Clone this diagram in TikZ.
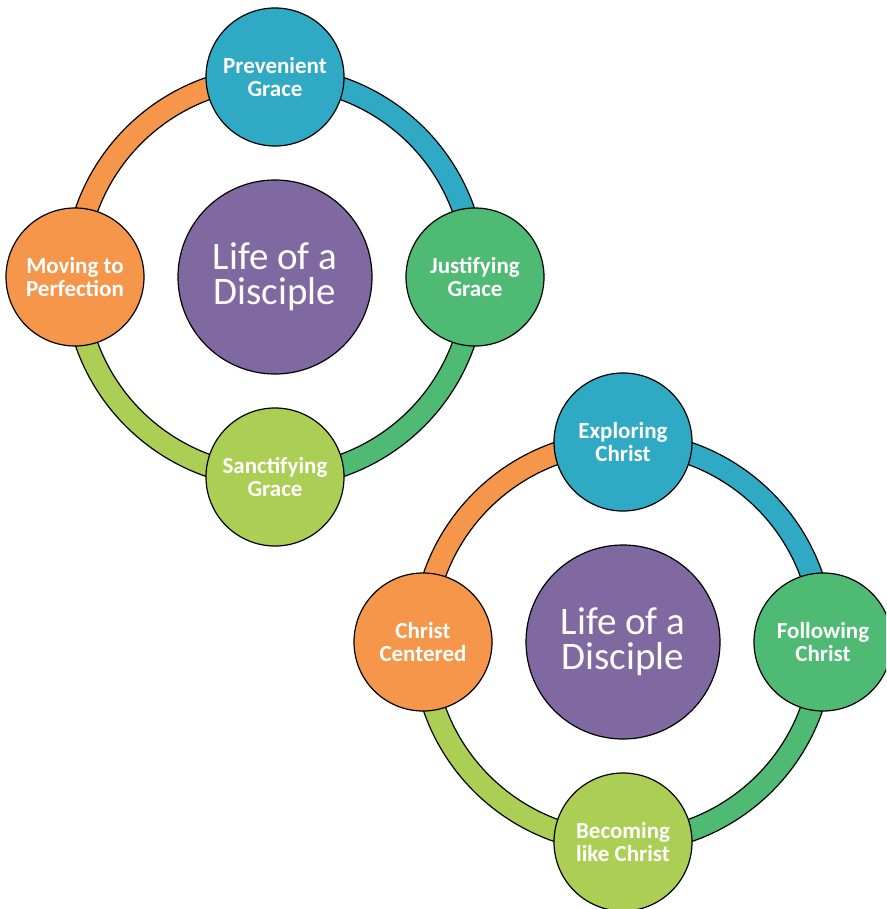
\documentclass[tikz,border=0pt]{standalone}
\usepackage{fontspec}
\setmainfont{Carlito}
\usetikzlibrary{calc}

\definecolor{graceblue}{HTML}{2FA9C4}
\definecolor{gracegreen}{HTML}{4FBA74}
\definecolor{gracelime}{HTML}{ABCF55}
\definecolor{graceorange}{HTML}{F5964B}
\definecolor{discpurple}{HTML}{7F69A0}

\tikzset{
  hub/.style={circle, draw=black, line width=1.2pt, fill=discpurple, text=white,
    minimum size=194pt, inner sep=0pt, align=center,
    font=\fontsize{39}{35}\selectfont},
  stage/.style={circle, draw=black, line width=1.2pt, text=white,
    minimum size=138pt, inner sep=0pt, align=center,
    font=\bfseries\fontsize{23}{23}\selectfont},
  band/.style={draw=black, line width=1.2pt}
}

% coloured quarter of the ring round a hub: centre, from, to, colour
\newcommand{\ringband}[4]{%
  \filldraw[band, fill=#4] ($(#1)+(#2:211)$) arc[start angle=#2, end angle=#3, radius=211]
    -- ($(#1)+(#3:189)$) arc[start angle=#3, end angle=#2, radius=189] -- cycle;}

\begin{document}
\begin{tikzpicture}[x=1pt,y=1pt]
\useasboundingbox (0,0) rectangle (886,-909);
\clip (0,0) rectangle (886,-909);

% upper cycle
\node[hub] (lifeA) at (275,-277) {Life of a\\Disciple};
\foreach \a/\b/\c in {0/90/graceblue,-90/0/gracegreen,-180/-90/gracelime,90/180/graceorange}{
\ringband{lifeA}{\a}{\b}{\c}}
\node[stage, fill=graceblue] (prevenient) at ($(lifeA)+(90:200)$) {Prevenient\\Grace};
\node[stage, fill=gracegreen] (justifying) at ($(lifeA)+(0:200)$) {Justifying\\Grace};
\node[stage, fill=gracelime] (sanctifying) at ($(lifeA)+(-90:200)$) {Sanctifying\\Grace};
\node[stage, fill=graceorange] (perfection) at ($(lifeA)+(180:200)$) {Moving to\\Perfection};

% lower cycle
\node[hub] (lifeB) at (623,-642) {Life of a\\Disciple};
\foreach \a/\b/\c in {0/90/graceblue,-90/0/gracegreen,-180/-90/gracelime,90/180/graceorange}{
\ringband{lifeB}{\a}{\b}{\c}}
\node[stage, fill=graceblue] (exploring) at ($(lifeB)+(90:200)$) {Exploring\\Christ};
\node[stage, fill=gracegreen] (following) at ($(lifeB)+(0:200)$) {Following\\Christ};
\node[stage, fill=gracelime] (becoming) at ($(lifeB)+(-90:200)$) {Becoming\\like Christ};
\node[stage, fill=graceorange] (centered) at ($(lifeB)+(180:200)$) {Christ\\Centered};
\end{tikzpicture}
\end{document}
